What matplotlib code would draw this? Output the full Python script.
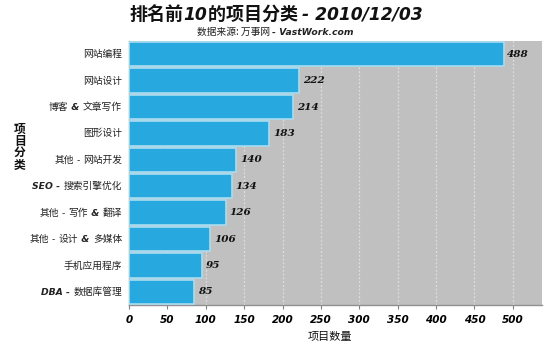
import re
import matplotlib
matplotlib.use("Agg")
import matplotlib.pyplot as plt
from matplotlib.offsetbox import TextArea, HPacker, AnnotationBbox

categories = ["网站编程", "网站设计", "博客 & 文章写作", "图形设计", "其他 - 网站开发",
              "SEO - 搜索引擎优化", "其他 - 写作 & 翻译", "其他 - 设计 & 多媒体",
              "手机应用程序", "DBA - 数据库管理"]
counts = [488, 222, 214, 183, 140, 134, 126, 106, 95, 85]
xticks = [0, 50, 100, 150, 200, 250, 300, 350, 400, 450, 500]
title_parts = [("排名前", False), ("10", True), ("的项目分类 ", False), ("- 2010/12/03", True)]
subtitle_parts = [("数据来源: 万事网 ", False), ("- VastWork.com", True)]
xlabel = "项目数量"
ylabel = "项目分类"

CJK = "Noto Sans CJK SC"
LAT = "DejaVu Sans"
plt.rcParams["font.family"] = [CJK, LAT]

BAR = "#27a9e0"
EDGE = "#a8dcf2"
BG = "#c0c0c0"

fig = plt.figure(figsize=(5.5, 3.5), dpi=100)
fig.patch.set_facecolor("white")
ax = fig.add_axes([129 / 550, 1 - 305 / 350, (542 - 129) / 550, (305 - 41) / 350])
ax.set_facecolor(BG)

ypos = list(range(len(categories)))
ax.barh(ypos, counts, height=0.92, color=BAR, edgecolor=EDGE, linewidth=1.2, zorder=3)
ax.set_xlim(0, 538)
ax.set_ylim(len(categories) - 0.5, -0.5)
ax.set_xticks(xticks)
ax.set_xticklabels([str(v) for v in xticks], fontfamily=LAT, fontweight="bold",
                   fontstyle="italic", fontsize=7.5)
ax.set_yticks(ypos)
ax.set_yticklabels([])
ax.tick_params(axis="y", length=0)
ax.tick_params(axis="x", length=3, color="#808080", pad=4)
ax.grid(axis="x", color="#dedede", linestyle=(0, (1.5, 1.5)), linewidth=0.9, zorder=1)
ax.set_axisbelow(True)
for side in ["top", "right"]:
    ax.spines[side].set_visible(False)
for side in ["left", "bottom"]:
    ax.spines[side].set_color("#909090")
    ax.spines[side].set_linewidth(1.0)

# value labels at bar ends
for y, v in zip(ypos, counts):
    ax.annotate(str(v), (v, y), xytext=(2.5, 0), textcoords="offset points",
                ha="left", va="center", fontfamily="DejaVu Serif", fontweight="bold",
                fontstyle="italic", fontsize=7.5, color="#111111", zorder=4)


def runs(text):
    """Split text into runs of Latin (drawn bold italic) and CJK (plain)."""
    out = []
    for m in re.finditer(r"[\x00-\x7f]+|[^\x00-\x7f]+", text):
        s = m.group(0)
        out.append((s, s.isascii() and s.strip() not in ("", "-")))
    return out


def rich(parts, size, weight_cjk="normal", color="#222222"):
    areas = []
    for s, latin in parts:
        if latin or s.isascii():
            props = dict(family=LAT, size=size * 0.95, weight="bold" if latin else weight_cjk,
                         style="italic" if latin else "normal", color=color)
        else:
            props = dict(family=[CJK, LAT], size=size, weight=weight_cjk, color=color)
        areas.append(TextArea(s, textprops=props))
    return HPacker(children=areas, align="baseline", pad=0, sep=0)


# category labels
for y, cat in zip(ypos, categories):
    box = rich(runs(cat), 7)
    ab = AnnotationBbox(box, (0, y), xycoords=ax.get_yaxis_transform(),
                        xybox=(-5, 0), boxcoords="offset points",
                        box_alignment=(1, 0.5), frameon=False)
    ax.add_artist(ab)

# title and subtitle
tbox = rich(title_parts, 13, weight_cjk="bold", color="#111111")
fig.add_artist(AnnotationBbox(tbox, (276 / 550, 1 - 14 / 350), xycoords="figure fraction",
                              box_alignment=(0.5, 0.5), frameon=False))
sbox = rich(subtitle_parts, 7, color="#222222")
fig.add_artist(AnnotationBbox(sbox, (275 / 550, 1 - 32 / 350), xycoords="figure fraction",
                              box_alignment=(0.5, 0.5), frameon=False))

fig.text(330 / 550, 1 - 337 / 350, xlabel, ha="center", va="center", fontsize=8,
         color="#111111")
fig.text(20 / 550, 1 - 147 / 350, "\n".join(ylabel), ha="center", va="center",
         fontsize=8.5, fontweight="bold", linespacing=0.85, color="#111111")

fig.savefig("out.png", dpi=100)
